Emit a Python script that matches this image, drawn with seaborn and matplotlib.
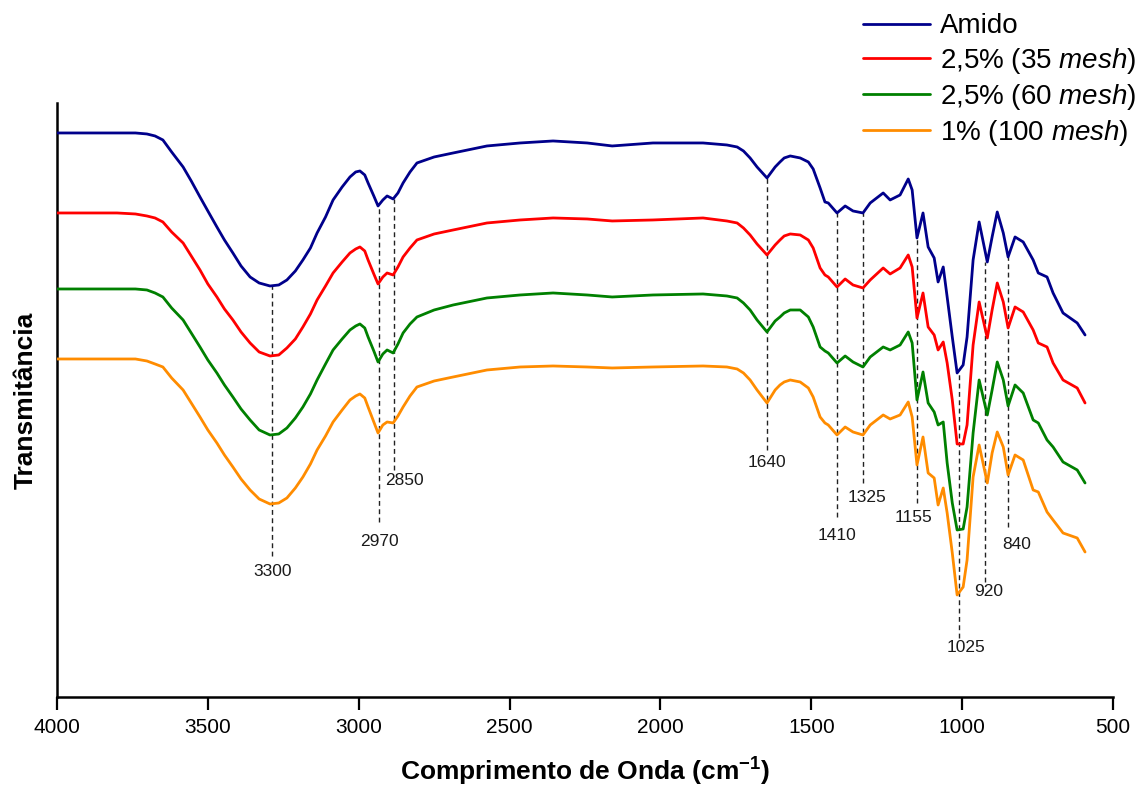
import numpy as np
import pandas as pd
import matplotlib
matplotlib.use("Agg")
import matplotlib.pyplot as plt
import seaborn as sns

# ---------------- data ----------------
wavenumber = [4000, 3801, 3740, 3702, 3675, 3649, 3620, 3582, 3555, 3526,
              3500, 3470, 3445, 3417, 3390, 3360, 3330, 3294, 3265, 3238,
              3210, 3185, 3160, 3138, 3110, 3085, 3055, 3029, 3010, 2996,
              2980, 2969, 2950, 2936, 2920, 2906, 2886, 2870, 2853, 2830,
              2807, 2750, 2687, 2575, 2465, 2356, 2243, 2160, 2025, 1859,
              1780, 1746, 1725, 1703, 1680, 1647, 1620, 1604, 1590, 1570,
              1537, 1510, 1494, 1471,
              1455, 1444, 1415, 1388, 1362, 1329, 1305, 1262, 1239, 1206,
              1179, 1166, 1150, 1130, 1113, 1093, 1080, 1063, 1050, 1033,
              1017, 997, 984, 964, 944, 917, 901, 884, 864, 848,
              825, 798, 765, 748, 719, 699, 666, 619, 593]

amido = [567, 567, 567, 566, 564, 560, 548, 533, 519, 503,
         489, 473, 460, 447, 434, 423, 417, 414, 415, 420,
         429, 440, 452, 467, 483, 500, 513, 523, 528, 529,
         525, 517, 504, 494, 500, 504, 501, 507, 517, 528,
         537, 543, 547, 554, 557, 559, 557, 554, 557, 557,
         555, 553, 549, 542, 533, 522, 533, 538, 542, 544,
         542, 538, 531, 512,
         498, 497, 487, 494, 489, 487, 497, 507, 500, 505,
         521, 510, 462, 487, 453, 442, 418, 433, 403, 363,
         327, 335, 363, 440, 478, 438, 463, 488, 467, 443,
         463, 458, 440, 427, 423, 407, 387, 377, 365]

s25_35 = [487, 487, 486, 484, 482, 478, 468, 457, 444, 430,
          416, 403, 391, 380, 368, 357, 348, 344, 345, 352,
          361, 373, 386, 400, 414, 427, 438, 447, 451, 453,
          449, 440, 426, 416, 423, 427, 425, 433, 443, 452,
          460, 466, 470, 477, 480, 482, 481, 479, 480, 482,
          479, 477, 472, 465, 456, 445, 455, 460, 464, 466,
          465, 460, 452, 432,
          425, 423, 413, 421, 415, 412, 420, 432, 426, 432,
          445, 433, 382, 407, 373, 365, 350, 358, 337, 300,
          256, 256, 275, 355, 398, 362, 390, 417, 398, 372,
          393, 388, 370, 357, 353, 337, 320, 312, 297]

s25_60 = [411, 411, 411, 410, 407, 403, 392, 380, 367, 353,
          340, 327, 315, 303, 291, 280, 270, 265, 266, 272,
          282, 293, 306, 320, 336, 350, 361, 370, 374, 376,
          372, 363, 349, 338, 346, 350, 347, 356, 367, 376,
          383, 390, 395, 402, 405, 407, 405, 403, 405, 406,
          404, 402, 397, 390, 380, 368, 379, 383, 387, 390,
          390, 383, 373, 353,
          349, 347, 337, 344, 338, 333, 343, 353, 350, 355,
          368, 357, 300, 328, 297, 288, 275, 278, 237, 197,
          170, 171, 193, 267, 320, 285, 310, 338, 320, 294,
          315, 307, 280, 277, 260, 253, 238, 230, 217]

s1_100 = [341, 341, 341, 339, 336, 333, 322, 310, 297, 283,
          270, 257, 245, 233, 221, 210, 201, 196, 197, 202,
          212, 223, 236, 250, 264, 278, 290, 300, 304, 306,
          302, 293, 278, 267, 275, 278, 277, 284, 293, 304,
          313, 319, 323, 330, 333, 334, 333, 332, 333, 334,
          333, 331, 327, 320, 310, 297, 310, 315, 318, 320,
          318, 312, 303, 283,
          277, 275, 265, 273, 268, 265, 275, 285, 281, 285,
          298, 283, 235, 263, 227, 222, 195, 212, 187, 147,
          105, 113, 140, 223, 255, 217, 247, 268, 253, 225,
          245, 240, 210, 208, 188, 180, 167, 162, 148]

series_names = ["Amido", "2,5% (35 $\\it{mesh}$)", "2,5% (60 $\\it{mesh}$)",
                "1% (100 $\\it{mesh}$)"]
series_values = [amido, s25_35, s25_60, s1_100]
colors = ["#00008B", "#FF0000", "#008000", "#FF8C00"]

# band annotations
band_pos = [3287, 2933, 2883, 1647, 1415, 1329, 1150, 1010, 924, 848]
band_labels = ["3300", "2970", "2850", "1640", "1410", "1325", "1155",
               "1025", "920", "840"]
band_top = [414, 494, 501, 522, 487, 487, 462, 327, 438, 443]
band_bottom = [144, 178, 230, 250, 183, 217, 197, 62, 118, 173]
label_x = [3287, 2933, 2847, 1647, 1415, 1315, 1163, 987, 914, 818]
label_y = [128, 158, 219, 237, 164, 202, 182, 52, 108, 155]

xticks = [4000, 3500, 3000, 2500, 2000, 1500, 1000, 500]

# ---------------- figure ----------------
sns.set_theme(style="ticks")
plt.rcParams["font.family"] = ["Liberation Sans", "DejaVu Sans"]
plt.rcParams["mathtext.fontset"] = "custom"
plt.rcParams["mathtext.rm"] = "Liberation Sans"
plt.rcParams["mathtext.it"] = "Liberation Sans:italic"
plt.rcParams["mathtext.bf"] = "Liberation Sans:bold"
plt.rcParams["text.color"] = "black"
plt.rcParams["axes.labelcolor"] = "black"

frames = []
for name, vals in zip(series_names, series_values):
    frames.append(pd.DataFrame({"wn": wavenumber, "T": vals, "Amostra": name}))
df = pd.concat(frames, ignore_index=True)

fig = plt.figure(figsize=(11.37, 7.89), dpi=100)
ax = fig.add_axes([0.0501, 0.1166, 0.9289, 0.7529])

for x, t0, t1 in zip(band_pos, band_bottom, band_top):
    ax.vlines(x, t0, t1, colors="#222222", linestyles=(0, (3.5, 2.5)),
              linewidth=1.0, zorder=1)
for lx, ly, lab in zip(label_x, label_y, band_labels):
    ax.text(lx, ly, lab, ha="center", va="center", fontsize=12.5,
            color="#1a1a1a")

sns.lineplot(data=df, x="wn", y="T", hue="Amostra", palette=colors,
             estimator=None, sort=True, linewidth=2.0, ax=ax, zorder=3)

ax.set_xlim(4000, 500)
ax.set_ylim(3, 597)
ax.set_xticks(xticks)
ax.set_xticklabels([str(t) for t in xticks])
ax.set_yticks([])
ax.tick_params(axis="x", direction="out", length=9, width=1.6,
               labelsize=15, pad=6, colors="black")
for s in ["top", "right"]:
    ax.spines[s].set_visible(False)
for s in ["left", "bottom"]:
    ax.spines[s].set_linewidth(1.8)
    ax.spines[s].set_color("black")

ax.set_xlabel("Comprimento de Onda (cm$^{\\mathbf{-1}}$)", fontsize=19,
              fontweight="bold", labelpad=14, color="black")
ax.set_ylabel("Transmitância", fontsize=19, fontweight="bold", labelpad=14,
              color="black")

handles, labels = ax.get_legend_handles_labels()
leg = ax.legend(handles, labels, loc="upper right",
                bbox_to_anchor=(0.999, 0.983),
                bbox_transform=fig.transFigure, frameon=False, fontsize=20,
                handlelength=2.4, handletextpad=0.35, labelspacing=0.22,
                borderpad=0.0, borderaxespad=0.0)
for t in leg.get_texts():
    t.set_color("black")

fig.savefig("out.png", dpi=100)
